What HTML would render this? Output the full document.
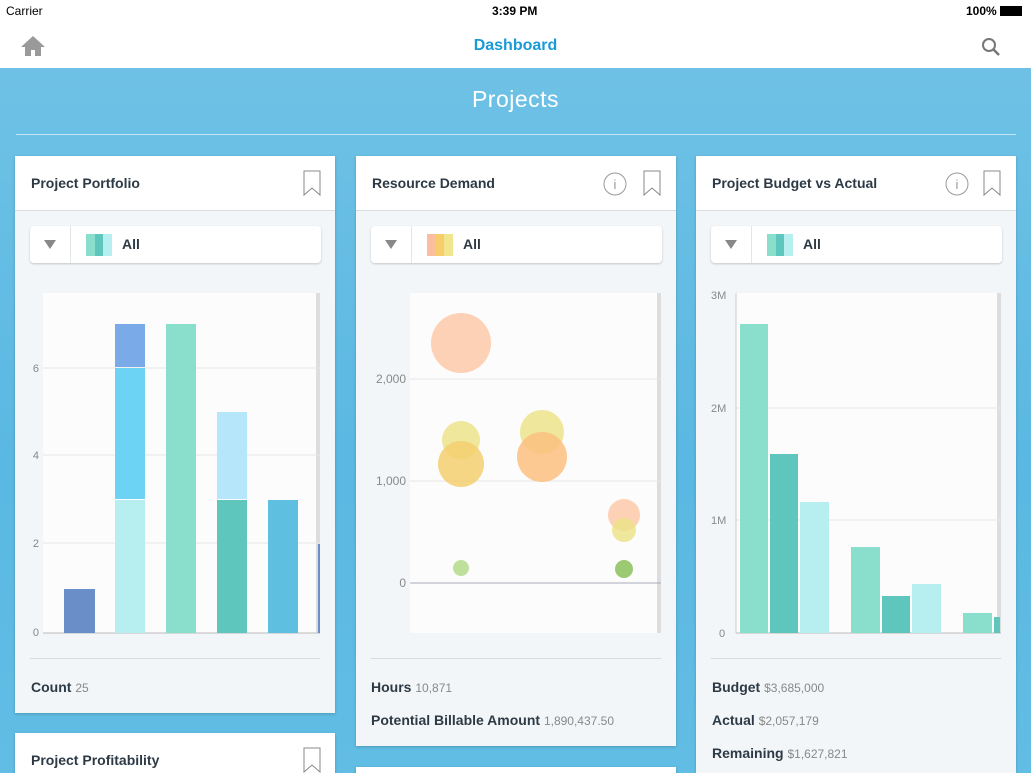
<!DOCTYPE html><html style="overflow:hidden;height:773px"><head><style>
*{margin:0;padding:0;box-sizing:border-box}
body{width:1031px;height:773px;overflow:hidden;font-family:"Liberation Sans",sans-serif;background:linear-gradient(180deg,#72c3e6,#5ab8e2 60%,#62bde4);position:relative}
.a{position:absolute}
.card{position:absolute;background:#f3f6f8;box-shadow:0 1px 3px rgba(0,0,0,.2)}
.hd{position:absolute;left:0;right:0;top:0;height:55px;background:#fff;border-bottom:1px solid #d8dde0}
.ht{position:absolute;left:16px;top:19px;font-size:14px;font-weight:bold;color:#2d3a45}
.dd{position:absolute;left:15px;right:14px;top:70px;height:37px;background:#fff;border-radius:4px;box-shadow:0 1px 2px rgba(0,0,0,.2)}
.ft{position:absolute;font-size:14px;font-weight:bold;color:#2d3a45}
.ft span{font-weight:normal;font-size:12px;color:#888}
</style></head><body>
<div class="a" style="left:0;top:0;width:1031px;height:68px;background:#fff"></div>
<div class="a" style="left:6px;top:4px;font-size:12px">Carrier</div>
<div class="a" style="left:492px;top:4px;font-size:12px;font-weight:bold">3:39 PM</div>
<div class="a" style="left:966px;top:4px;font-size:12px;font-weight:bold">100% <span style="display:inline-block;width:22px;height:10px;background:#000;vertical-align:-1px"></span></div>
<svg class="a" style="left:20px;top:35px" width="26" height="22"><path d="M13 1 L1 12 H5 V21 H11 V15 H15 V21 H21 V12 H25 Z" fill="#9a9a9a"/></svg>
<div class="a" style="left:0;width:1031px;top:37px;text-align:center;font-size:16px;font-weight:bold;color:#1a9ad6">Dashboard</div>
<svg class="a" style="left:981px;top:37px" width="20" height="20"><circle cx="8" cy="8" r="6" stroke="#777" stroke-width="2" fill="none"/><path d="M12 12 L18 18" stroke="#777" stroke-width="2.5"/></svg>
<div class="a" style="left:0;width:1031px;top:86px;text-align:center;font-size:23px;color:#fff;font-weight:lighter;letter-spacing:0.5px">Projects</div>
<div class="a" style="left:16px;top:134px;width:1000px;height:1px;background:rgba(255,255,255,.6)"></div>

<div class="card" style="left:15px;top:156px;width:320px;height:557px">
<div class="hd"><div class="ht">Project Portfolio</div><svg class="a" style="left:288px;top:14px" width="18" height="26"><path d="M1 1H17V25L9 18L1 25Z" fill="none" stroke="#888"/></svg></div>
<div class="dd"><svg class="a" style="left:14px;top:14px" width="12" height="9"><path d="M0 0H12L6 9Z" fill="#888"/></svg><div class="a" style="left:40px;top:0;width:1px;height:37px;background:#e3e6e8"></div><div class="a" style="left:56px;top:8px;width:26px;height:22px;background:linear-gradient(90deg,#8adfcc 35%,#5fc6bd 35%,#5fc6bd 65%,#b7eff0 65%)"></div><div class="a" style="left:92px;top:10px;font-size:14px;font-weight:bold;color:#2d3a45">All</div></div>
<div class="a" style="left:15px;top:502px;width:290px;height:1px;background:#d6dbde"></div>
<div class="ft" style="left:16px;top:523px">Count <span>25</span></div>
</div>
<svg class="a" style="left:15px;top:293px" width="310" height="345">
<rect x="28" y="0" width="277" height="340" fill="#fcfcfc"/><rect x="301" y="0" width="4" height="340" fill="#ddd"/>
<g stroke="#e6e6e6"><line x1="28" x2="305" y1="75" y2="75"/><line x1="28" x2="305" y1="162" y2="162"/><line x1="28" x2="305" y1="250" y2="250"/></g>
<line x1="28" x2="305" y1="340" y2="340" stroke="#bbb"/>
<g font-size="11" fill="#888" text-anchor="end" font-family="Liberation Sans"><text x="24" y="79">6</text><text x="24" y="166">4</text><text x="24" y="254">2</text><text x="24" y="343">0</text></g>
<rect x="49" y="296" width="31" height="44" fill="#6a8fc8"/>
<rect x="100" y="207" width="30" height="133" fill="#b7eff0"/><rect x="100" y="75" width="30" height="131" fill="#6dd3f5"/><rect x="100" y="31" width="30" height="43" fill="#7aaae8"/>
<rect x="151" y="31" width="30" height="309" fill="#8adfcc"/>
<rect x="202" y="207" width="30" height="133" fill="#5fc6bd"/><rect x="202" y="119" width="30" height="87" fill="#b5e6fa"/>
<rect x="253" y="207" width="30" height="133" fill="#5ebfe0"/>
<rect x="303" y="251" width="2" height="89" fill="#6a8fc8"/>
</svg>

<div class="card" style="left:356px;top:156px;width:320px;height:590px">
<div class="hd"><div class="ht">Resource Demand</div><svg class="a" style="left:247px;top:16px" width="24" height="24"><circle cx="12" cy="12" r="11" fill="none" stroke="#999"/><text x="12" y="17" font-size="13" fill="#999" text-anchor="middle" font-family="Liberation Sans">i</text></svg><svg class="a" style="left:287px;top:14px" width="18" height="26"><path d="M1 1H17V25L9 18L1 25Z" fill="none" stroke="#888"/></svg></div>
<div class="dd"><svg class="a" style="left:14px;top:14px" width="12" height="9"><path d="M0 0H12L6 9Z" fill="#888"/></svg><div class="a" style="left:40px;top:0;width:1px;height:37px;background:#e3e6e8"></div><div class="a" style="left:56px;top:8px;width:26px;height:22px;background:linear-gradient(90deg,#fbbfa0 35%,#f6cd6a 35%,#f6cd6a 65%,#f1e68e 65%)"></div><div class="a" style="left:92px;top:10px;font-size:14px;font-weight:bold;color:#2d3a45">All</div></div>
<div class="a" style="left:15px;top:502px;width:290px;height:1px;background:#d6dbde"></div>
<div class="ft" style="left:15px;top:523px">Hours <span>10,871</span></div>
<div class="ft" style="left:15px;top:556px">Potential Billable Amount <span>1,890,437.50</span></div>
</div>
<svg class="a" style="left:356px;top:293px" width="310" height="345">
<rect x="54" y="0" width="251" height="340" fill="#fcfcfc"/><rect x="301" y="0" width="4" height="340" fill="#ddd"/>
<g stroke="#e6e6e6"><line x1="54" x2="305" y1="86" y2="86"/><line x1="54" x2="305" y1="188" y2="188"/></g>
<line x1="54" x2="305" y1="290" y2="290" stroke="#aab"/>
<g font-size="12" fill="#888" text-anchor="end" font-family="Liberation Sans"><text x="50" y="90">2,000</text><text x="50" y="192">1,000</text><text x="50" y="294">0</text></g>
<circle cx="105" cy="50" r="30" fill="#fdc9a8" opacity=".85"/>
<circle cx="105" cy="147" r="19" fill="#ece38a" opacity=".85"/>
<circle cx="105" cy="171" r="23" fill="#f3cf6e" opacity=".85"/>
<circle cx="105" cy="275" r="8" fill="#bfe09a"/>
<circle cx="186" cy="139" r="22" fill="#ece38a" opacity=".85"/>
<circle cx="186" cy="164" r="25" fill="#fbbf80" opacity=".85"/>
<circle cx="268" cy="222" r="16" fill="#fdc9a8" opacity=".85"/>
<circle cx="268" cy="237" r="12" fill="#ece38a" opacity=".85"/>
<circle cx="268" cy="276" r="9" fill="#9cca72"/>
</svg>

<div class="card" style="left:696px;top:156px;width:320px;height:630px">
<div class="hd"><div class="ht">Project Budget vs Actual</div><svg class="a" style="left:249px;top:16px" width="24" height="24"><circle cx="12" cy="12" r="11" fill="none" stroke="#999"/><text x="12" y="17" font-size="13" fill="#999" text-anchor="middle" font-family="Liberation Sans">i</text></svg><svg class="a" style="left:287px;top:14px" width="18" height="26"><path d="M1 1H17V25L9 18L1 25Z" fill="none" stroke="#888"/></svg></div>
<div class="dd"><svg class="a" style="left:14px;top:14px" width="12" height="9"><path d="M0 0H12L6 9Z" fill="#888"/></svg><div class="a" style="left:40px;top:0;width:1px;height:37px;background:#e3e6e8"></div><div class="a" style="left:56px;top:8px;width:26px;height:22px;background:linear-gradient(90deg,#8adfcc 35%,#5fc6bd 35%,#5fc6bd 65%,#b7eff0 65%)"></div><div class="a" style="left:92px;top:10px;font-size:14px;font-weight:bold;color:#2d3a45">All</div></div>
<div class="a" style="left:15px;top:502px;width:290px;height:1px;background:#d6dbde"></div>
<div class="ft" style="left:16px;top:523px">Budget <span>$3,685,000</span></div>
<div class="ft" style="left:16px;top:556px">Actual <span>$2,057,179</span></div>
<div class="ft" style="left:16px;top:589px">Remaining <span>$1,627,821</span></div>
</div>
<svg class="a" style="left:696px;top:288px" width="310" height="350">
<rect x="40" y="5" width="265" height="340" fill="#fcfcfc"/><rect x="301" y="5" width="4" height="340" fill="#ddd"/>
<g stroke="#e6e6e6"><line x1="40" x2="305" y1="120" y2="120"/><line x1="40" x2="305" y1="232" y2="232"/></g>
<line x1="40" x2="40" y1="5" y2="345" stroke="#ccc"/><line x1="40" x2="305" y1="345" y2="345" stroke="#bbb"/>
<g font-size="11" fill="#888" font-family="Liberation Sans"><text x="15" y="11">3M</text><text x="15" y="124">2M</text><text x="15" y="236">1M</text><text x="23" y="349">0</text></g>
<rect x="44" y="36" width="28" height="309" fill="#8adfcc"/>
<rect x="74" y="166" width="28" height="179" fill="#5fc6bd"/>
<rect x="104" y="214" width="29" height="131" fill="#b7eff0"/>
<rect x="155" y="259" width="29" height="86" fill="#8adfcc"/>
<rect x="186" y="308" width="28" height="37" fill="#5fc6bd"/>
<rect x="216" y="296" width="29" height="49" fill="#b7eff0"/>
<rect x="267" y="325" width="29" height="20" fill="#8adfcc"/>
<rect x="298" y="329" width="6" height="16" fill="#5fc6bd"/>
</svg>

<div class="card" style="left:15px;top:733px;width:320px;height:60px;background:#fff"><div class="ht" style="top:19px">Project Profitability</div><svg class="a" style="left:288px;top:14px" width="18" height="26"><path d="M1 1H17V25L9 18L1 25Z" fill="none" stroke="#888"/></svg></div>
<div class="card" style="left:356px;top:767px;width:320px;height:30px;background:#fff"></div>
</body></html>
